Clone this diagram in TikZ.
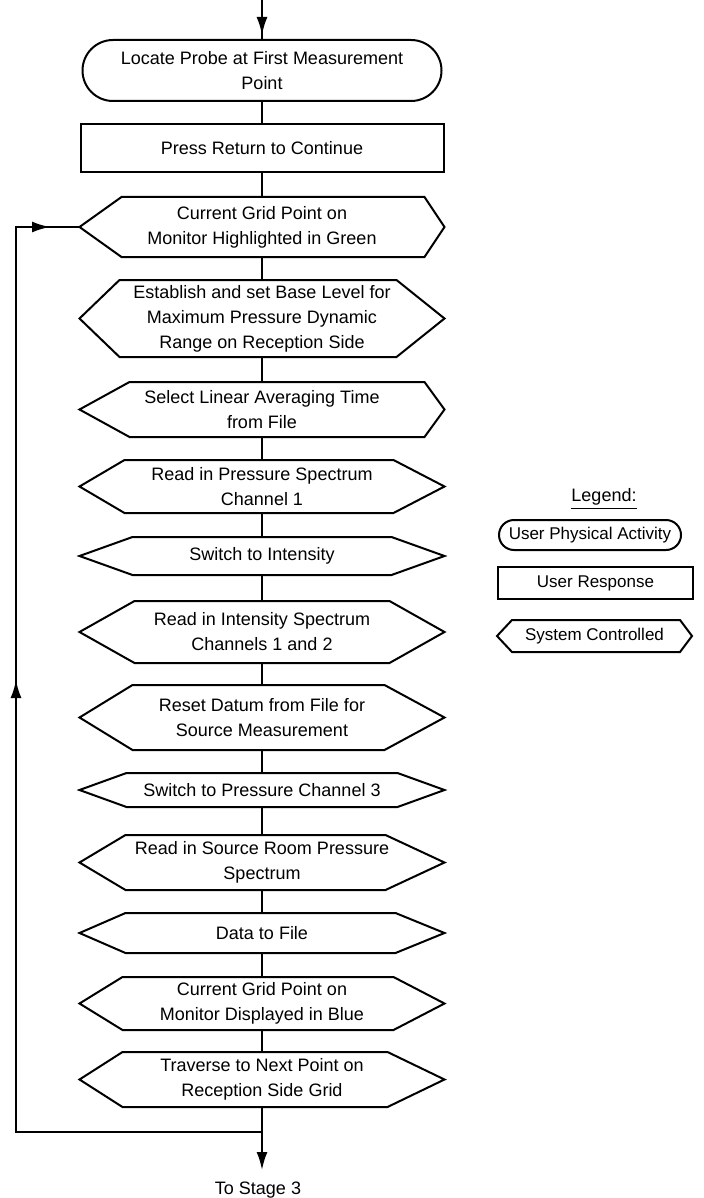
\documentclass[tikz,border=0pt]{standalone}
\usepackage{fontspec}
\setmainfont{Liberation Sans}
\usetikzlibrary{shapes.misc,arrows.meta,decorations.markings}
\tikzset{
  flow/.tip={Latex[length=9pt,width=5.5pt]},
  base/.style={align=center,font=\fontsize{9}{12.5}\selectfont,line width=1pt},
  userbox/.style={base,draw,rounded rectangle,minimum width=181.5pt,inner sep=1pt},
  respbox/.style={base,draw,rectangle,minimum width=181.5pt,inner sep=1pt},
  sysbox/.style={base,minimum width=182.5pt,inner sep=1pt,outer sep=0pt},
  link/.style={line width=1pt},
  midarrow/.style={postaction={decorate},decoration={markings,mark=at position #1 with {\arrow{flow}}}}
}
\begin{document}
\begin{tikzpicture}[x=0.5pt,y=-0.5pt]
 \useasboundingbox (0,0) rectangle (704,1198);
 % main column
 \node[userbox,minimum height=30.5pt] (term) at (262,70.5) {Locate Probe at First Measurement\\Point};
 \node[respbox,minimum height=24pt] (resp) at (262,148) {Press Return to Continue};
 \node[sysbox,minimum height=30pt] (h1) at (262,227) {Current Grid Point on\\Monitor Highlighted in Green};
 \node[sysbox,minimum height=38.5pt] (h2) at (262,318.5) {Establish and set Base Level for\\Maximum Pressure Dynamic\\Range on Reception Side};
 \node[sysbox,minimum height=27.5pt] (h3) at (262,409.5) {Select Linear Averaging Time\\from File};
 \node[sysbox,minimum height=26.5pt] (h4) at (262,486.5) {Read in Pressure Spectrum\\Channel 1};
 \node[sysbox,minimum height=19pt] (h5) at (262,556) {Switch to Intensity};
 \node[sysbox,minimum height=31pt] (h6) at (262,632) {Read in Intensity Spectrum\\Channels 1 and 2};
 \node[sysbox,minimum height=32.5pt] (h7) at (262,717.5) {Reset Datum from File for\\Source Measurement};
 \node[sysbox,minimum height=17pt] (h8) at (262,790) {Switch to Pressure Channel 3};
 \node[sysbox,minimum height=27.5pt] (h9) at (262,862.5) {Read in Source Room Pressure\\Spectrum};
 \node[sysbox,minimum height=20pt] (h10) at (262,933) {Data to File};
 \node[sysbox,minimum height=26.5pt] (h11) at (262,1003.5) {Current Grid Point on\\Monitor Displayed in Blue};
 \node[sysbox,minimum height=27.5pt] (h12) at (262,1079.5) {Traverse to Next Point on\\Reception Side Grid};
 \node[base] (stage) at (258,1190) {To Stage 3};
 % legend
 \node[base] (lgt) at (604,499) {\underline{Legend:}};
 \node[userbox,minimum width=93pt,minimum height=15pt,font=\fontsize{8.5}{10}\selectfont] (lg1) at (590,535) {User Physical Activity};
 \node[respbox,minimum width=97.5pt,minimum height=16pt,font=\fontsize{8.5}{10}\selectfont] (lg2) at (595.5,583) {User Response};
 \node[sysbox,minimum width=97.5pt,minimum height=16pt,font=\fontsize{8.5}{10}\selectfont] (lg3) at (594.5,636) {System Controlled};
 % hexagon outlines
 \foreach \n/\l/\r in {h1/42/20,h2/40/48,h3/50/20,h4/45/51,h5/53/53,h6/55/55,h7/53/60,h8/47/47,h9/46/59,h10/46/49,h11/43/51,h12/43/57,lg3/15/12}
  \draw[link] (\n.west) -- ([xshift={\l*0.5pt}]\n.north west) -- ([xshift={-\r*0.5pt}]\n.north east) -- (\n.east) -- ([xshift={-\r*0.5pt}]\n.south east) -- ([xshift={\l*0.5pt}]\n.south west) -- cycle;
 % connectors
 \coordinate (entry) at (262,0);
 \coordinate (junc) at (262,1132);
 \coordinate (exit) at (262,1170);
 \coordinate (lbot) at (16,1132);
 \coordinate (ltop) at (16,227);
 \draw[link,midarrow=17.5pt] (entry) -- (term.north);
 \foreach \a/\b in {term/resp,resp/h1,h1/h2,h2/h3,h3/h4,h4/h5,h5/h6,h6/h7,h7/h8,h8/h9,h9/h10,h10/h11,h11/h12}
  \draw[link] (\a.south) -- (\b.north);
 \draw[link] (h12.south) -- (junc);
 \draw[link,-flow] (junc) -- (exit);
 \draw[link,postaction={decorate},decoration={markings,mark=at position 349pt with {\arrow{flow}},mark=at position 592.5pt with {\arrow{flow}}}] (junc) -- (lbot) -- (ltop) -- (h1.west);
\end{tikzpicture}
\end{document}
